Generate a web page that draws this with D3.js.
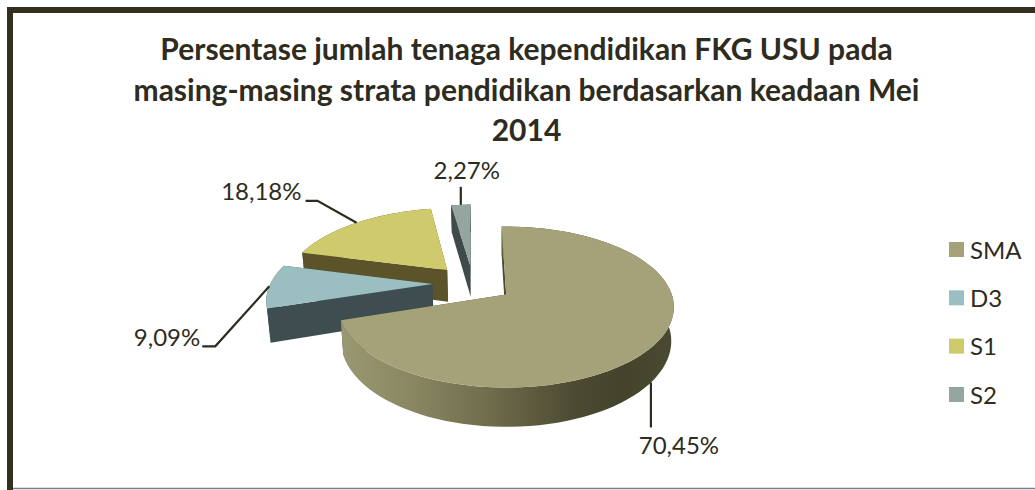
<!DOCTYPE html>
<html><head><meta charset="utf-8">
<script src="https://cdnjs.cloudflare.com/ajax/libs/d3/7.8.5/d3.min.js"></script>
<style>html,body{margin:0;padding:0;background:#fff}svg{display:block}text{font-family:Lato,"Open Sans",sans-serif;fill:#2e2b20}</style>
</head><body><svg id="c" width="1035" height="490"></svg>
<script>
const titleLines = ["Persentase jumlah tenaga kependidikan FKG USU pada","masing-masing strata pendidikan berdasarkan keadaan Mei","2014"];
const categories = ["SMA","D3","S1","S2"];
const values = [70.45,9.09,18.18,2.27];
const valueLabels = ["70,45%","9,09%","18,18%","2,27%"];
const topColors = ["#a5a27a","#9bbfc1","#cfca6c","#95a5a0"];
const sideColors = ["#8f8c68","#3e4e50","#5b5428","#3f4a4a"];

const svg = d3.select("#c");
// frame
svg.append("path").attr("d",`M10,490V10H1035`).attr("fill","none").attr("stroke","#34301f").attr("stroke-width",6);
svg.append("line").attr("x1",13).attr("x2",1035).attr("y1",488.5).attr("y2",488.5).attr("stroke","#808080").attr("stroke-width",1.5);

// title
const tY=d3.scalePoint().domain(d3.range(3)).range([60,141]);
svg.append("g").selectAll("text").data(titleLines).join("text")
 .attr("x",526.5).attr("y",(d,i)=>tY(i)).attr("text-anchor","middle")
 .attr("font-size",30).attr("font-weight",700).text(d=>d);

// perspective projection of the pie plane
const P={cx:473,cy:283.5,R:162,r:75.2,k:0.1516,s:4.8,depth:32.5,explode:0.25,pull:0.015,rot:-0.03};
function proj(X,Y,down){
  const den=1+P.k*Y;
  let x=P.cx+(P.R*X+P.s*Y)/den, y=P.cy-P.r*Y/den;
  if(down){ y+=P.depth/den; x+=(503-x)*P.pull; }
  return [x,y];
}
const TAU=2*Math.PI;
const arcs=d3.pie().value(d=>d).sort(null).startAngle(P.rot).endAngle(TAU+P.rot)(values);
function slicePts(a,n=90){
  const mid=(a.startAngle+a.endAngle)/2, ox=P.explode*Math.sin(mid), oy=P.explode*Math.cos(mid);
  return {
    apex:[ox,oy],
    rim:d3.range(n+1).map(i=>{const t=a.startAngle+(a.endAngle-a.startAngle)*i/n;return [ox+Math.sin(t),oy+Math.cos(t)];}),
    at:t=>[ox+Math.sin(t),oy+Math.cos(t)], mid
  };
}
const line=d3.line();
const defs=svg.append("defs");
const grad=defs.append("linearGradient").attr("id","wall").attr("gradientUnits","userSpaceOnUse")
 .attr("x1",343).attr("x2",673).attr("y1",0).attr("y2",0);
[[0,"#9a9773"],[0.2,"#8a8763"],[0.45,"#6f6c4c"],[0.7,"#4c4a31"],[0.85,"#44432c"],[1,"#4a4932"]]
 .forEach(([o,c])=>grad.append("stop").attr("offset",o).attr("stop-color",c));

const pies=svg.append("g");
[3,2,1,0].forEach(i=>{
  const a=arcs[i],S=slicePts(a),g=pies.append("g");
  const side=i===0?"url(#wall)":sideColors[i];
  const face=p=>{
    const A0=proj(S.apex[0],S.apex[1]),A1=proj(S.apex[0],S.apex[1],true),
          B0=proj(p[0],p[1]),B1=proj(p[0],p[1],true);
    g.append("path").attr("d",line([A0,B0,B1,A1])+"Z").attr("fill",i===0?"#4c4a31":sideColors[i]);
  };
  face(S.rim[0]); face(S.rim[S.rim.length-1]);
  const topRim=S.rim.map(p=>proj(p[0],p[1])), botRim=S.rim.map(p=>proj(p[0],p[1],true));
  g.append("path").attr("d",line(topRim.concat(botRim.reverse()))+"Z").attr("fill",side);
  g.append("path").attr("d",line([proj(S.apex[0],S.apex[1])].concat(topRim))+"Z").attr("fill",topColors[i]);
});

// leader lines and labels
const labelAnchor=[
 {down:true,t:0.505,elbow:[0,45],tx:28,ty:72,anchor:"middle"},
 {t:0.5,elbow:[-54,60],end:[-67,60],tx:-69,ty:60,anchor:"end"},
 {t:0.5,elbow:[-39,-22],end:[-51,-22],tx:-55,ty:-23,anchor:"end"},
 {t:0.5,elbow:[0,-18],tx:6,ty:-26,anchor:"middle"}
];
const leaders=svg.append("g");
arcs.forEach((a,i)=>{
  const L=labelAnchor[i],S=slicePts(a);
  const th=a.startAngle+(a.endAngle-a.startAngle)*L.t;
  const p=S.at(th), start=proj(p[0],p[1],!!L.down);
  const pts=[start,[start[0]+L.elbow[0],start[1]+L.elbow[1]]];
  if(L.end) pts.push([start[0]+L.end[0],start[1]+L.end[1]]);
  leaders.append("path").attr("d",line(pts)).attr("fill","none").attr("stroke","#2e2b20").attr("stroke-width",2.2);
  svg.append("text").attr("x",start[0]+L.tx).attr("y",start[1]+L.ty)
   .attr("text-anchor",L.anchor).attr("font-size",24).text(valueLabels[i]);
});

// legend
const ly=d3.scalePoint().domain(categories).range([249.5,394.5]);
const leg=svg.append("g").selectAll("g").data(categories).join("g")
 .attr("transform",d=>`translate(949,${ly(d)})`);
leg.append("rect").attr("y",-7.5).attr("width",15).attr("height",15).attr("fill",(d,i)=>topColors[i]);
leg.append("text").attr("x",21).attr("y",9).attr("font-size",24).text(d=>d);
</script></body></html>
